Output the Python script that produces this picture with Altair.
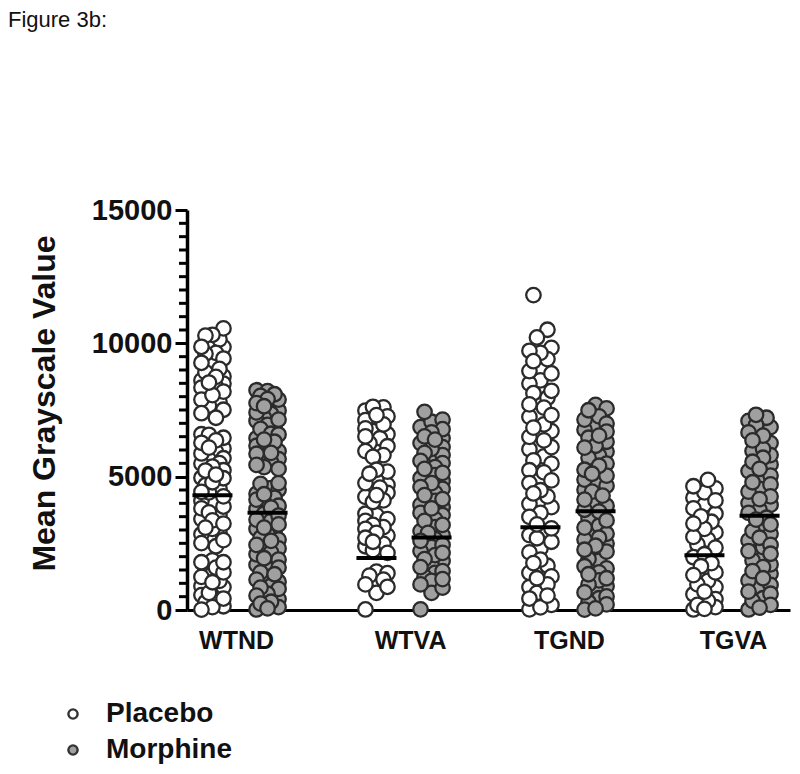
import altair as alt
import pandas as pd

categories = ["WTND", "WTVA", "TGND", "TGVA"]
treatments = ["Placebo", "Morphine"]

wtnd_placebo = [10560,10320,10290,10150,9980,9870,9860,9640,9610,9430,9290,9270,9040,8920,8760,8740,8610,8530,8490,8370,8340,8190,8060,7890,7810,7660,7510,7380,7210,
 6590,6570,6460,6360,6270,6090,6060,5940,5870,5690,5640,5510,5490,5380,5240,5230,5080,4960,4940,4790,4680,4560,4430,4410,4260,4090,4010,3880,3810,3660,3560,3410,3360,3240,3090,3040,2910,2840,2760,2620,2510,2390,
 1860,1790,1790,1590,1510,1410,1360,1240,1090,1040,890,860,640,560,430,410,290,140,110,15]
wtnd_morphine = [8240,8210,8090,8030,7910,7890,7760,7660,7640,7480,7410,7360,7210,7140,7090,6940,6860,6790,6610,6580,6440,6390,6310,6160,6110,5960,5890,5860,5690,5660,5540,5440,5360,5290,
 4760,4730,4570,4510,4360,4340,4210,4140,4030,3910,3840,3790,3610,3540,3390,3340,3210,3090,3040,2910,2840,2710,2640,2590,2440,2340,2310,2160,2090,1940,1890,1810,1690,1590,1540,1410,1340,1210,1140,1060,910,840,790,610,540,410,310,240,110,60,20]
wtva_placebo = [7620,7600,7480,7310,7260,7120,7040,6960,6810,6710,6590,6510,6440,6260,6140,6060,5960,5810,5740,
 5260,5190,5110,4960,4860,4760,4690,4590,4510,4390,4310,4240,4110,4050,
 3610,3560,3410,3340,3190,3110,3040,2890,2790,2710,2560,2480,2390,2240,2140,
 1440,1380,1290,1140,1060,960,870,640,20]
wtva_morphine = [7430,7140,7060,6860,6780,6660,6510,6440,6390,6260,6110,6040,5890,5810,5790,5590,5510,5360,5290,5140,5060,4940,4840,4760,4610,4540,4390,4310,4160,4090,3940,3860,3810,3640,3560,3410,3340,3190,3110,2960,2890,2810,2660,2590,2440,2360,2210,2140,2060,1910,1840,1690,1610,1460,1390,1240,1160,1090,960,840,640,25]
tgnd_placebo = [11810,10510,10220,9830,9720,9640,9410,9330,9060,8960,8870,8610,8490,8220,8130,7960,7710,7590,7310,7240,6960,6840,6710,6490,6360,6110,6030,5760,5610,5490,5240,5160,4860,4760,4490,4370,4260,3980,3860,3640,3490,3210,3060,2810,2690,2560,2310,2160,1890,1760,1660,1390,1260,1190,960,860,640,540,430,190,100,25]
tgnd_morphine = [7690,7560,7490,7260,7140,6990,6910,6760,6690,6540,6460,6310,6160,6090,5940,5790,5710,5490,5410,5260,5110,5040,4890,4810,4660,4510,4440,4290,4140,4060,3910,3760,3690,3440,3360,3160,3090,2940,2860,2710,2640,2490,2410,2260,2190,1910,1840,1640,1560,1410,1340,1190,1110,960,890,740,660,510,440,290,210,60,15]
tgva_placebo = [4880,4640,4560,4410,4210,4110,3940,3810,3610,3510,3310,3240,3040,2910,2740,2640,2460,2340,2090,1980,1760,1640,1410,1310,1090,960,860,690,590,410,340,190,110,40,20]
tgva_morphine = [7320,7210,7090,6940,6860,6660,6540,6360,6260,6040,5960,5810,5710,5560,5460,5290,5210,5040,4960,4790,4710,4540,4440,4260,4160,4010,3940,3760,3640,3460,3390,3210,3110,2960,2860,2710,2610,2440,2360,2210,2110,1960,1860,1710,1610,1460,1360,1190,1110,940,860,690,610,440,340,190,90,20]

series = [
    (0, "Placebo", wtnd_placebo), (0, "Morphine", wtnd_morphine),
    (1, "Placebo", wtva_placebo), (1, "Morphine", wtva_morphine),
    (2, "Placebo", tgnd_placebo), (2, "Morphine", tgnd_morphine),
    (3, "Placebo", tgva_placebo), (3, "Morphine", tgva_morphine),
]
means = [4300, 3650, 1950, 2720, 3100, 3700, 2050, 3530]
major_ticks = [0, 5000, 10000, 15000]
minor_ticks = [500,1000,1500,2000,2500,3000,3500,4000,4500,5500,6000,6500,7000,7500,8000,8500,9000,9500,
               10500,11000,11500,12000,12500,13000,13500,14000,14500]

SIDE = 0.168
SLOTS = [-11, -7, -3.5, 0, 3.5, 7, 11]
records, mean_records = [], []
for (cat, trt, vals), m in zip(series, means):
    center = cat + (-SIDE if trt == "Placebo" else SIDE)
    placed = []
    for i, v in enumerate(sorted(vals)):
        vy = v / 37.5
        best, best_d = 0, -1
        order = [SLOTS[(i * 3 + k * 5) % 7] for k in range(7)]
        for s in order:
            d = min([((s - px) ** 2 + (vy - py) ** 2) ** 0.5 for px, py in placed[-10:]] or [99])
            if d > best_d:
                best, best_d = s, d
            if d >= 10:
                best = s
                break
        placed.append((best, vy))
        records.append({"x": center + best / 164, "value": v, "Treatment": trt,
                        "draw": (v * 37) % 101})
    mean_records.append({"x1": center - 20 / 164, "x2": center + 20 / 164, "mean": m})

points = pd.DataFrame(records).sort_values("draw")
mean_df = pd.DataFrame(mean_records)
FONT = "Liberation Sans"

x_scale = alt.Scale(domain=[-0.3232, 3.3537], nice=False, zero=False)
y_scale = alt.Scale(domain=[0, 15000], nice=False)

x_axis = alt.Axis(values=[-0.024, 1.037, 2.006, 3.006], title=None, ticks=False, grid=False,
                  labelExpr="['WTND','WTVA','TGND','TGVA'][round(datum.value)]",
                  labelFont=FONT, labelFontSize=25, labelFontWeight="bold", labelColor="#111",
                  domainColor="#000", domainWidth=3, labelPadding=18)
y_axis = alt.Axis(values=major_ticks, format="d", title="Mean Grayscale Value", grid=False,
                  tickSize=12, tickWidth=3, tickColor="#000", domainColor="#000", domainWidth=3.5,
                  labelFont=FONT, labelFontSize=29, labelFontWeight="bold", labelColor="#111", labelPadding=3,
                  titleFont=FONT, titleFontSize=32, titleFontWeight="bold", titleColor="#111",
                  titleX=-126, titleY=193)

dots = alt.Chart(points).mark_point(filled=True, size=210, stroke="#2b2b2b", strokeWidth=2.3, opacity=1, shape="circle").encode(
    x=alt.X("x:Q", scale=x_scale, axis=x_axis),
    y=alt.Y("value:Q", scale=y_scale, axis=y_axis),
    fill=alt.Fill("Treatment:N", scale=alt.Scale(domain=treatments, range=["#ffffff", "#a0a0a0"]),
                  legend=alt.Legend(title=None, orient="none", legendX=-128, legendY=490, symbolType="circle",
                                    symbolSize=85, symbolStrokeColor="#333333", symbolStrokeWidth=2.4,
                                    labelFont=FONT, labelFontSize=28, labelFontWeight="bold", labelColor="#111",
                                    labelOffset=19, rowPadding=8, symbolOpacity=1)),
    order=alt.Order("draw:Q"),
)

minor = alt.Chart(pd.DataFrame({"tick": minor_ticks})).mark_rule(color="#000", strokeWidth=3).encode(
    x=alt.value(-8), x2=alt.value(0), y=alt.Y("tick:Q", scale=y_scale, axis=y_axis),
)

rules = alt.Chart(mean_df).mark_rule(color="#000", strokeWidth=4).encode(
    x=alt.X("x1:Q", scale=x_scale, axis=x_axis), x2="x2:Q", y=alt.Y("mean:Q", scale=y_scale, axis=y_axis),
)

caption = alt.Chart(pd.DataFrame({"t": ["Figure 3b:"]})).mark_text(
    font=FONT, fontSize=22, align="left", baseline="alphabetic", color="#111", clip=False
).encode(x=alt.value(-179), y=alt.value(-183), text="t:N")

chart = alt.layer(dots, minor, rules, caption).properties(
    width=603, height=400,
    padding={"left": 179, "top": 202, "right": 2, "bottom": 160},
    autosize=alt.AutoSizeParams(type="none"),
    background="white",
).configure_view(stroke=None)

chart.save("out.html", embed_options={"renderer": "svg", "actions": False})
